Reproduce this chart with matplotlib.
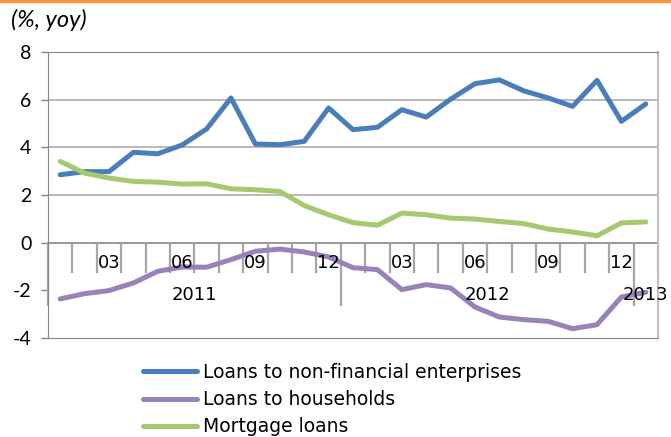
import numpy as np
import matplotlib
matplotlib.use("Agg")
import matplotlib.pyplot as plt
from matplotlib.lines import Line2D

# monthly observations, Jan 2011 .. Jan 2013
months = ["01", "02", "03", "04", "05", "06", "07", "08", "09", "10", "11", "12",
          "01", "02", "03", "04", "05", "06", "07", "08", "09", "10", "11", "12",
          "01"]
years = ["2011", "2012", "2013"]

enterprises = [2.85, 2.98, 2.98, 3.79, 3.73, 4.10, 4.77, 6.07, 4.14, 4.11, 4.25, 5.65,
               4.74, 4.84, 5.58, 5.27, 6.02, 6.67, 6.83, 6.37, 6.07, 5.72, 6.81, 5.09,
               5.82]
households = [-2.36, -2.14, -2.01, -1.69, -1.20, -1.02, -1.03, -0.71, -0.36, -0.27, -0.39, -0.60,
              -1.05, -1.13, -1.97, -1.76, -1.90, -2.70, -3.12, -3.23, -3.30, -3.61, -3.44, -2.28,
              -2.08]
mortgage = [3.41, 2.92, 2.71, 2.57, 2.54, 2.46, 2.47, 2.26, 2.22, 2.15, 1.56, 1.17,
            0.84, 0.73, 1.24, 1.17, 1.03, 0.99, 0.89, 0.80, 0.57, 0.45, 0.29, 0.83,
            0.87]

labels = ["Loans to non-financial enterprises", "Loans to households", "Mortgage loans"]
colors = ["#4A7EBB", "#9882BA", "#A6C870"]

fig = plt.figure(figsize=(6.71, 4.37), dpi=100)
ax = fig.add_axes([48 / 671, 1 - 338 / 437, 610 / 671, 286 / 437])

x = np.arange(len(months))
for vals, col in zip([enterprises, households, mortgage], colors):
    ax.plot(x, vals, color=col, lw=3.6, solid_capstyle="round", solid_joinstyle="round", zorder=3)

ax.set_xlim(-0.5, len(months) - 0.5)
ax.set_ylim(-4, 8)
ax.set_yticks([-4, -2, 0, 2, 4, 6, 8])
ax.set_yticklabels(["-4", "-2", "0", "2", "4", "6", "8"], fontfamily="Lato", fontsize=14)
ax.tick_params(axis="y", length=5, width=1, color="#868686", pad=7)
ax.set_xticks([])

for v in [2, 4, 6]:
    ax.axhline(v, color="#A6A6A6", lw=1.1, zorder=1)
ax.axhline(0, color="#868686", lw=1.2, zorder=2)

for s in ["left", "bottom", "top"]:
    ax.spines[s].set_color("#868686")
ax.spines["right"].set_color("#BFBFBF")
ax.spines["right"].set_linewidth(1.5)

# category axis at zero: month ticks short, year ticks long
bounds = np.arange(len(months) + 1) - 0.5
for i, b in enumerate(bounds):
    if i % 12 == 0 and i < len(months):
        ax.plot([b, b], [0, -2.6], color="#A6A6A6", lw=1.6, clip_on=False, zorder=2)
    else:
        ax.plot([b, b], [0, -1.25], color="#A6A6A6", lw=1.6, clip_on=False, zorder=2)

for i, m in enumerate(months):
    if m in ("03", "06", "09", "12"):
        ax.text(i, -0.84, m, ha="center", va="center", fontsize=13, zorder=4)
ax.text(5.5, -2.2, years[0], ha="center", va="center", fontsize=13, zorder=4)
ax.text(17.5, -2.2, years[1], ha="center", va="center", fontsize=13, zorder=4)
ax.text(24.0, -2.2, years[2], ha="center", va="center", fontsize=13, zorder=4, clip_on=False)

fig.text(11 / 671, 1 - 20 / 437, "(%, yoy)", fontfamily="Lato", fontstyle="italic",
         fontsize=17, ha="left", va="center")

# orange rule across the top
fig.add_artist(Line2D([0, 1], [0.998, 0.998], color="#F79646", lw=2.5, transform=fig.transFigure))

handles = [Line2D([], [], color=c, lw=3.6, solid_capstyle="round") for c in colors]
fig.legend(handles, labels, loc="upper left", bbox_to_anchor=(143 / 671, 1 - 363 / 437),
           frameon=False, fontsize=13.5, handlelength=2.9, handletextpad=0.3,
           labelspacing=0.44, borderpad=0, borderaxespad=0)

fig.savefig("out.png", dpi=100)
